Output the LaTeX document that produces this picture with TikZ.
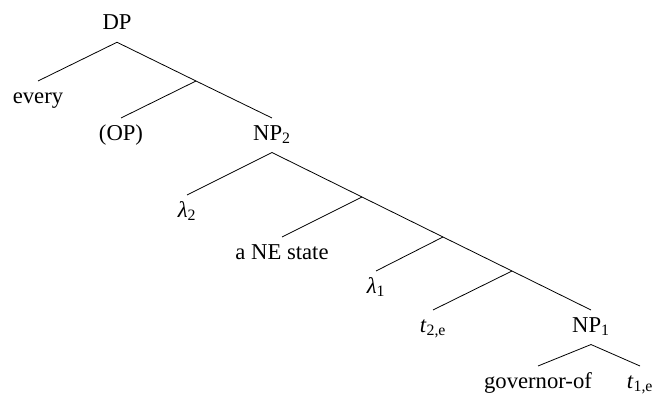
\documentclass[tikz,border=0pt]{standalone}
\usepackage{fontspec}
\setmainfont{Liberation Serif}
\begin{document}
\begin{tikzpicture}[x=0.75pt,y=-0.75pt,
  lbl/.style={inner xsep=1pt, inner ysep=4.5pt, text height=12pt, text depth=4.5pt, font=\fontsize{17}{20}\selectfont},
  top/.style={lbl, anchor=north},
  lowtop/.style={top, inner ysep=2pt, text height=14.5pt, text depth=0pt},
  edge/.style={line width=0.6pt}]
\useasboundingbox (0,0) rectangle (658,395);
% root
\node[lbl, anchor=base] (DP) at (117,30) {DP};
% branch points
\coordinate (Y) at (196,81);
\coordinate (X1) at (362,197);
\coordinate (X2) at (443,237);
\coordinate (X3) at (512,271);
% leaves and labelled nodes
\node[top] (every) at (38,81) {every};
\node[top] (OP) at (121,118) {(OP)};
\node[top] (NPb) at (272,118) {NP\textsubscript{2}};
\node[top] (lb) at (187,195) {\textit{λ}\textsubscript{2}};
\node[top] (ane) at (282,237) {a NE state};
\node[top] (la) at (376,271) {\textit{λ}\textsubscript{1}};
\node[top] (tb) at (433,310) {\textit{t}\textsubscript{2,e}};
\node[top] (NPa) at (591,310) {NP\textsubscript{1}};
\node[lowtop] (gov) at (538,366) {governor-of};
\node[lowtop] (ta) at (640,366) {\textit{t}\textsubscript{1,e}};
% connectors
\draw[edge] (DP.south) -- (every.north);
\draw[edge] (DP.south) -- (Y) -- (NPb.north);
\draw[edge] (Y) -- (OP.north);
\draw[edge] (NPb.south) -- (lb.north);
\draw[edge] (NPb.south) -- (X1) -- (X2) -- (X3) -- (NPa.north);
\draw[edge] (X1) -- (ane.north);
\draw[edge] (X2) -- (la.north);
\draw[edge] (X3) -- (tb.north);
\draw[edge] (NPa.south) -- (gov.north);
\draw[edge] (NPa.south) -- (ta.north);
\end{tikzpicture}
\end{document}
